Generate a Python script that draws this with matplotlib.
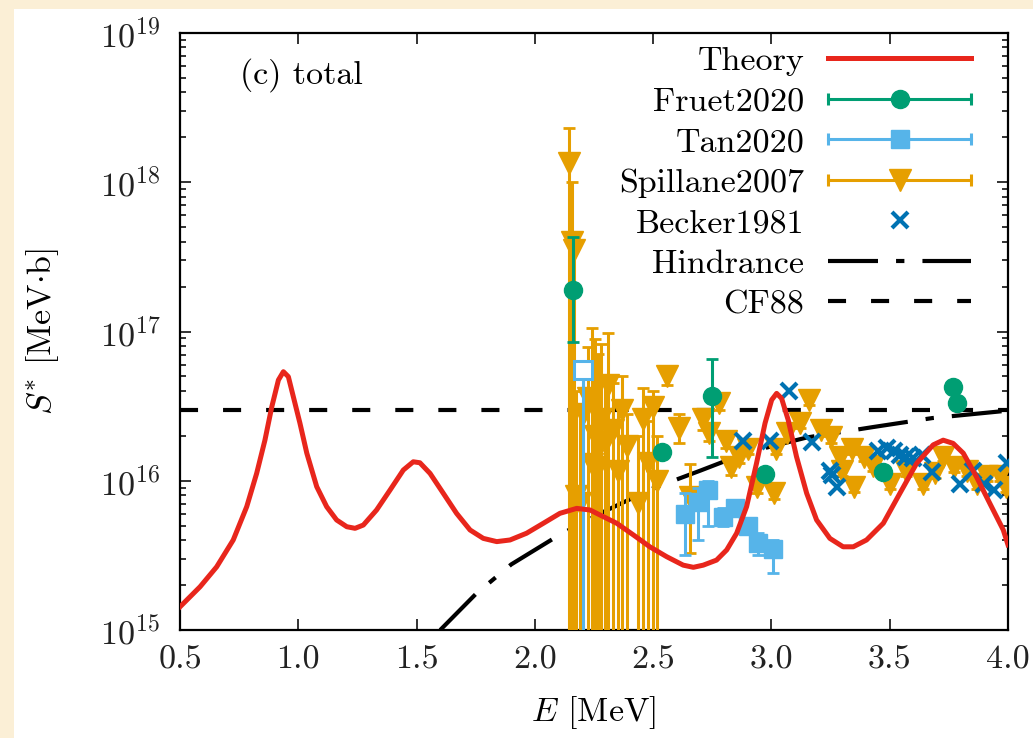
import matplotlib
matplotlib.use('Agg')
import matplotlib.pyplot as plt
import numpy as np
from matplotlib.lines import Line2D
from matplotlib.patches import Rectangle
from matplotlib.legend_handler import HandlerLine2D

plt.rcParams['font.family'] = 'serif'
plt.rcParams['font.serif'] = ['cmr10']
plt.rcParams['mathtext.fontset'] = 'cm'
plt.rcParams['axes.formatter.use_mathtext'] = True
plt.rcParams['axes.unicode_minus'] = False
plt.rcParams['lines.scale_dashes'] = False

# theory curve
theory_E = [0.500, 0.585, 0.655, 0.725, 0.782, 0.824, 0.859, 0.888, 0.916, 0.937, 0.958,
            0.979, 1.007, 1.036, 1.078, 1.120, 1.162, 1.205, 1.240, 1.275, 1.331, 1.388,
            1.444, 1.486, 1.514, 1.557, 1.613, 1.669, 1.726, 1.782, 1.839, 1.895, 1.965,
            2.036, 2.106, 2.177, 2.233, 2.275, 2.346, 2.416, 2.486, 2.557, 2.627, 2.670,
            2.712, 2.768, 2.811, 2.853, 2.895, 2.937, 2.973, 3.001, 3.022, 3.043, 3.071,
            3.106, 3.149, 3.191, 3.247, 3.303, 3.346, 3.402, 3.473, 3.543, 3.614, 3.684,
            3.726, 3.768, 3.811, 3.867, 3.923, 3.980, 4.000]
theory_S = [1.43e15, 1.95e15, 2.65e15, 4.01e15, 6.70e15, 1.12e16, 1.87e16, 3.13e16,
            4.73e16, 5.38e16, 4.98e16, 3.66e16, 2.43e16, 1.53e16, 9.12e15, 6.70e15,
            5.46e15, 4.92e15, 4.80e15, 5.05e15, 6.37e15, 8.67e15, 1.18e16, 1.34e16,
            1.32e16, 1.12e16, 8.24e15, 6.05e15, 4.68e15, 4.11e15, 3.91e15, 4.01e15,
            4.45e15, 5.19e15, 6.05e15, 6.53e15, 6.37e15, 5.90e15, 5.19e15, 4.34e15,
            3.61e15, 3.10e15, 2.72e15, 2.63e15, 2.72e15, 2.94e15, 3.44e15, 4.45e15,
            6.70e15, 1.31e16, 2.43e16, 3.48e16, 3.85e16, 3.56e16, 2.55e16, 1.45e16,
            8.24e15, 5.46e15, 4.11e15, 3.61e15, 3.61e15, 4.01e15, 5.19e15, 8.24e15,
            1.31e16, 1.74e16, 1.87e16, 1.78e16, 1.53e16, 1.06e16, 7.06e15, 4.68e15, 3.72e15]

hind_E = [1.6, 1.75, 1.9, 2.1, 2.3, 2.5, 2.7, 2.9, 3.15, 3.43, 3.68, 4.0]
hind_S = [1.0e15, 1.74e15, 2.75e15, 4.3e15, 6.3e15, 8.9e15, 1.17e16, 1.55e16,
          1.95e16, 2.29e16, 2.63e16, 2.95e16]

cf88_E = [0.5, 4.0]
cf88_S = [3.0e16, 3.0e16]

# Fruet2020
fruet_E = [2.161, 2.537, 2.748, 2.972, 3.47, 3.767, 3.784]
fruet_S = [1.9e17, 1.55e16, 3.7e16, 1.11e16, 1.15e16, 4.27e16, 3.3e16]
fruet_hi = [4.3e17, 1.66e16, 6.5e16, 1.17e16, 1.2e16, 4.45e16, 3.45e16]
fruet_lo = [8.5e16, 1.45e16, 1.45e16, 1.05e16, 1.1e16, 4.1e16, 3.15e16]

# Tan2020 (first point drawn open)
tan_E = [2.634, 2.689, 2.732, 2.795, 2.846, 2.90, 2.943, 3.006]
tan_S = [6.0e15, 7.2e15, 8.7e15, 5.7e15, 6.6e15, 5.0e15, 3.8e15, 3.5e15]
tan_hi = [8.3e15, 8.9e15, 1.0e16, 6.6e15, 7.4e15, 5.6e15, 4.5e15, 4.0e15]
tan_lo = [3.2e15, 4.0e15, 5.0e15, 5.0e15, 5.9e15, 4.5e15, 3.2e15, 2.4e15]
tan_open_E = [2.203]
tan_open_S = [5.5e16]
tan_open_hi = [5.7e16]
tan_open_lo = [1.0e14]

# Spillane2007
spil_E = [2.145, 2.155, 2.165, 2.175, 2.19, 2.205, 2.225, 2.24, 2.255, 2.267, 2.28,
          2.295, 2.31, 2.33, 2.35, 2.37, 2.39, 2.435, 2.457, 2.478, 2.50, 2.515,
          2.56, 2.61, 2.655, 2.71, 2.735, 2.78, 2.81, 2.83, 2.865, 2.90, 2.94, 3.01,
          3.02, 3.065, 3.12, 3.16, 3.21, 3.25, 3.29, 3.30, 3.34, 3.35, 3.39, 3.43,
          3.50, 3.57, 3.64, 3.69, 3.725, 3.77, 3.825, 3.87, 3.91, 3.965, 3.99]
spil_S = [1.35e18, 4.0e17, 3.5e17, 7.9e15, 7.1e15, 2.8e16, 3.6e16, 1.3e16, 2.0e16,
          1.23e16, 2.6e16, 1.78e16, 4.4e16, 2.2e16, 1.17e16, 3.0e16, 1.7e16, 7.1e15,
          2.6e16, 1.32e16, 3.1e16, 1.0e16,
          5.0e16, 2.24e16, 7.8e15, 2.6e16, 2.1e16, 3.3e16, 1.86e16, 1.23e16, 1.45e16,
          1.62e16, 9.1e15, 8.3e15, 1.62e16, 2.1e16, 2.45e16, 3.5e16, 2.2e16, 1.95e16,
          1.45e16, 1.17e16, 1.62e16, 9.1e15, 1.45e16, 1.26e16, 9.5e15, 1.17e16,
          9.5e15, 1.12e16, 1.45e16, 1.23e16, 1.17e16, 9.5e15, 1.07e16, 1.07e16, 9.1e15]
spil_hi = [2.3e18, 1.0e18, 4.2e17, 4.0e16, 3.2e16, 5.6e16, 7.9e16, 1.05e17, 8.9e16,
           7.1e16, 8.3e16, 5.0e16, 9.8e16, 4.5e16, 3.2e16, 5.0e16, 2.8e16, 2.0e16,
           4.2e16, 2.5e16, 4.0e16, 2.0e16,
           5.7e16, 2.8e16, 1.3e16, 3.0e16, 2.4e16, 3.6e16, 2.1e16, 1.35e16, 1.6e16,
           1.75e16, 1.0e16, 9.0e15, 1.75e16, 2.3e16, 2.65e16, 3.8e16, 2.4e16, 2.1e16,
           1.55e16, 1.27e16, 1.75e16, 9.9e15, 1.55e16, 1.36e16, 1.03e16, 1.27e16,
           1.03e16, 1.21e16, 1.55e16, 1.33e16, 1.27e16, 1.03e16, 1.16e16, 1.16e16, 9.9e15]
spil_lo = [1.0e14] * 22 + [
           4.4e16, 1.8e16, 3.3e15, 2.2e16, 1.85e16, 3.0e16, 1.65e16, 1.1e16, 1.32e16,
           1.5e16, 8.3e15, 7.6e15, 1.5e16, 1.9e16, 2.25e16, 3.2e16, 2.0e16, 1.8e16,
           1.35e16, 1.08e16, 1.5e16, 8.4e15, 1.35e16, 1.16e16, 8.8e15, 1.08e16,
           8.8e15, 1.04e16, 1.35e16, 1.14e16, 1.08e16, 8.8e15, 9.9e15, 9.9e15, 8.4e15]

# Becker1981
beck_E = [2.88, 2.995, 3.075, 3.17, 3.247, 3.255, 3.277, 3.45, 3.49, 3.52, 3.545,
          3.57, 3.60, 3.635, 3.68, 3.797, 3.85, 3.90, 3.94, 3.995]
beck_S = [1.86e16, 1.86e16, 3.98e16, 1.82e16, 1.17e16, 1.1e16, 9.1e15, 1.58e16,
          1.66e16, 1.58e16, 1.48e16, 1.45e16, 1.41e16, 1.48e16, 1.15e16, 9.5e15,
          1.17e16, 9.5e15, 8.7e15, 1.32e16]

C_RED = '#E8261C'
C_GREEN = '#009E73'
C_TAN = '#56B4E9'
C_SPIL = '#E69F00'
C_BECK = '#0072B2'
FS = 24.5

fig = plt.figure(figsize=(10.33, 7.38), dpi=100)
fig.patch.set_facecolor('#FBEFD6')
fig.patches.append(Rectangle((14 / 1033, 0), 1, 1 - 9 / 738, transform=fig.transFigure,
                             facecolor='white', edgecolor='none', zorder=-10))
ax = fig.add_axes([180 / 1033, 1 - 630 / 738, 828 / 1033, 597 / 738])

ax.plot(cf88_E, cf88_S, color='black', lw=3, ls=(0, (13, 18)), zorder=2)
ax.plot(hind_E, hind_S, color='black', lw=3, ls=(0, (36, 13, 6, 13)), zorder=2)

def err(S, lo, hi):
    S = np.array(S)
    return [S - np.array(lo), np.array(hi) - S]

ax.errorbar(spil_E, spil_S, yerr=err(spil_S, spil_lo, spil_hi), fmt='v', color=C_SPIL,
            ms=16, elinewidth=2.2, capsize=4.5, capthick=2, zorder=3)
ax.errorbar(tan_E, tan_S, yerr=err(tan_S, tan_lo, tan_hi), fmt='s', color=C_TAN,
            ms=13, elinewidth=2.2, capsize=4.5, capthick=2, zorder=4)
ax.errorbar(tan_open_E, tan_open_S, yerr=err(tan_open_S, tan_open_lo, tan_open_hi),
            fmt='s', color=C_TAN, mfc='white', mew=2.2, ms=13, elinewidth=2.2,
            capsize=4.5, capthick=2, zorder=4)
ax.errorbar(fruet_E, fruet_S, yerr=err(fruet_S, fruet_lo, fruet_hi), fmt='o', color=C_GREEN,
            ms=13, elinewidth=2.2, capsize=4.5, capthick=2, zorder=5)
ax.plot(beck_E, beck_S, 'x', color=C_BECK, ms=11, mew=3, zorder=5)
ax.plot(theory_E, theory_S, color=C_RED, lw=3.6, zorder=6, solid_joinstyle='round')

ax.set_yscale('log')
ax.set_xlim(0.5, 4.0)
ax.set_ylim(1e15, 1e19)
ax.set_xticks([0.5, 1.0, 1.5, 2.0, 2.5, 3.0, 3.5, 4.0])
ax.set_xticklabels(['0.5', '1.0', '1.5', '2.0', '2.5', '3.0', '3.5', '4.0'])
ax.tick_params(which='both', direction='in', top=True, right=True, labelsize=FS,
               colors='#222222', width=1.3)
ax.tick_params(which='major', length=8)
ax.tick_params(which='minor', length=4)
ax.tick_params(axis='x', pad=11)
ax.tick_params(axis='y', pad=14)
for s in ax.spines.values():
    s.set_linewidth(1.6)

ax.set_xlabel(r'$E$ [MeV]', fontsize=FS, labelpad=14)
ax.set_ylabel(r'$S^{*}$ [MeV$\cdot$b]', fontsize=FS, labelpad=28)
ax.text(0.072, 0.93, '(c) total', transform=ax.transAxes, fontsize=FS, va='center')

# legend handles in gnuplot style
def capline(c):
    return Line2D([], [], color=c, lw=2.2, marker='|', ms=8, mew=2.2)

cap_f, cap_t, cap_s = capline(C_GREEN), capline(C_TAN), capline(C_SPIL)
handles = [
    Line2D([], [], color=C_RED, lw=3.6),
    (cap_f, Line2D([], [], color=C_GREEN, marker='o', ms=13, ls='none')),
    (cap_t, Line2D([], [], color=C_TAN, marker='s', ms=13, ls='none')),
    (cap_s, Line2D([], [], color=C_SPIL, marker='v', ms=16, ls='none')),
    Line2D([], [], color=C_BECK, marker='x', ms=11, mew=3, ls='none'),
    Line2D([], [], color='black', lw=3, ls=(0, (36, 13, 6, 13))),
    Line2D([], [], color='black', lw=3, ls=(0, (13, 18))),
]
labels = ['Theory', 'Fruet2020', 'Tan2020', 'Spillane2007', 'Becker1981', 'Hindrance', 'CF88']
hm = {h: HandlerLine2D(numpoints=2, marker_pad=0) for h in (cap_f, cap_t, cap_s)}
leg = ax.legend(handles, labels, handler_map=hm, loc='upper right',
                bbox_to_anchor=((971 - 180) / 828, 0.978), frameon=False, markerfirst=False,
                fontsize=FS, handlelength=4.2, handletextpad=0.7, labelspacing=0.315,
                borderaxespad=0, borderpad=0)
leg.set_zorder(10)

fig.savefig('out.png', dpi=100, facecolor=fig.get_facecolor())
